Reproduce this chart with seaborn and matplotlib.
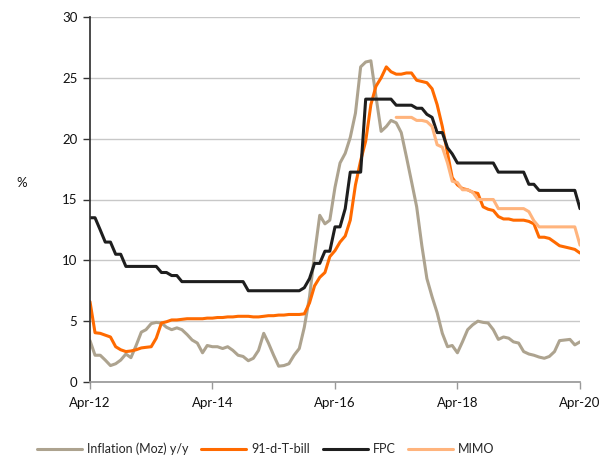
import numpy as np
import pandas as pd
import matplotlib
matplotlib.use("Agg")
import matplotlib.pyplot as plt
import seaborn as sns

dates = pd.date_range("2012-04-01", "2020-04-01", freq="MS")

inflation = [3.4, 2.2, 2.2, 1.8, 1.35, 1.5, 1.8, 2.3, 2.0, 3.0, 4.1, 4.3, 4.8, 4.9, 4.85,
             4.5, 4.3, 4.45, 4.3, 3.9, 3.45, 3.2, 2.4, 3.0, 2.9, 2.9, 2.75, 2.9, 2.6, 2.2,
             2.1, 1.75, 1.95, 2.6, 4.0, 3.2, 2.2, 1.3, 1.35, 1.5, 2.2, 2.75, 4.5, 7.0, 10.5,
             13.7, 13.0, 13.3, 16.0, 18.0, 18.8, 20.1, 22.1, 25.9, 26.3, 26.4, 23.5, 20.6,
             21.0, 21.5, 21.3, 20.5, 18.5, 16.5, 14.4, 11.2, 8.5, 7.0, 5.7, 4.0, 2.9, 3.0,
             2.4, 3.3, 4.3, 4.7, 5.0, 4.9, 4.85, 4.3, 3.5, 3.7, 3.6, 3.3, 3.2, 2.5, 2.3,
             2.2, 2.05, 1.95, 2.1, 2.5, 3.4, 3.45, 3.5, 3.05, 3.3]

tbill = [6.6, 4.05, 4.0, 3.85, 3.7, 2.9, 2.65, 2.5, 2.55, 2.65, 2.8, 2.85, 2.9, 3.6, 4.85,
         4.95, 5.1, 5.1, 5.15, 5.2, 5.2, 5.2, 5.2, 5.25, 5.25, 5.3, 5.3, 5.35, 5.35, 5.4,
         5.4, 5.4, 5.35, 5.35, 5.4, 5.45, 5.45, 5.5, 5.5, 5.55, 5.55, 5.55, 5.6, 6.5, 7.9,
         8.6, 9.0, 10.3, 10.8, 11.5, 12.0, 13.3, 16.2, 18.2, 19.8, 22.8, 24.3, 25.0, 25.9,
         25.5, 25.3, 25.3, 25.4, 25.4, 24.8, 24.7, 24.6, 24.1, 22.8, 21.0, 18.8, 16.8,
         16.2, 15.9, 15.8, 15.6, 15.5, 14.4, 14.2, 14.1, 13.6, 13.4, 13.4, 13.3, 13.3,
         13.3, 13.2, 13.0, 11.9, 11.9, 11.8, 11.5, 11.2, 11.1, 11.0, 10.9, 10.6]

fpc = [13.5, 13.5, 12.5, 11.5, 11.5, 10.5, 10.5, 9.5, 9.5, 9.5, 9.5, 9.5, 9.5, 9.5, 9.0,
       9.0, 8.75, 8.75, 8.25, 8.25, 8.25, 8.25, 8.25, 8.25, 8.25, 8.25, 8.25, 8.25, 8.25,
       8.25, 8.25, 7.5, 7.5, 7.5, 7.5, 7.5, 7.5, 7.5, 7.5, 7.5, 7.5, 7.5, 7.75, 8.5, 9.75,
       9.75, 10.75, 10.75, 12.75, 12.75, 14.25, 17.25, 17.25, 17.25, 23.25, 23.25, 23.25,
       23.25, 23.25, 23.25, 22.75, 22.75, 22.75, 22.75, 22.5, 22.5, 22.0, 21.75, 20.5,
       20.5, 19.25, 18.75, 18.0, 18.0, 18.0, 18.0, 18.0, 18.0, 18.0, 18.0, 17.25, 17.25,
       17.25, 17.25, 17.25, 17.25, 16.25, 16.25, 15.75, 15.75, 15.75, 15.75, 15.75, 15.75,
       15.75, 15.75, 14.25]

mimo = [np.nan] * 60 + [21.75, 21.75, 21.75, 21.75, 21.5, 21.5, 21.4, 21.0, 19.5, 19.3,
                        18.0, 16.5, 16.4, 15.8, 15.8, 15.6, 15.0, 15.0, 15.0, 15.0, 14.25,
                        14.25, 14.25, 14.25, 14.25, 14.25, 14.0, 13.25, 12.75, 12.75, 12.75,
                        12.75, 12.75, 12.75, 12.75, 12.75, 11.25]

series_names = ["Inflation (Moz) y/y", "91-d-T-bill", "FPC", "MIMO"]
colors = ["#ADA38F", "#FF6A00", "#1E1E1E", "#FFB47D"]

df = pd.DataFrame({"date": dates, series_names[0]: inflation, series_names[1]: tbill,
                   series_names[2]: fpc, series_names[3]: mimo})
long = df.melt(id_vars="date", var_name="series", value_name="value")

sns.set_theme(style="white")
plt.rcParams["font.family"] = ["Lato", "DejaVu Sans"]

fig = plt.figure(figsize=(6.1, 4.59), dpi=100)
ax = fig.add_axes([90/610, 1-382/459, 490/610, 365/459])

sns.lineplot(data=long, x="date", y="value", hue="series", hue_order=series_names,
             palette=colors, linewidth=2.2, ax=ax, legend=True)

ax.set_ylim(0, 30)
ax.set_yticks(range(0, 31, 5))
ax.set_xlim(dates[0], dates[-1])
xt = pd.to_datetime(["2012-04-01", "2014-04-01", "2016-04-01", "2018-04-01", "2020-04-01"])
ax.set_xticks(xt)
ax.set_xticklabels(["Apr-12", "Apr-14", "Apr-16", "Apr-18", "Apr-20"])
ax.yaxis.grid(True, color="#C8C8C8", linewidth=1)
ax.set_axisbelow(True)
for s in ["top", "right"]:
    ax.spines[s].set_visible(False)
ax.spines["left"].set_color("#333333")
ax.spines["bottom"].set_color("#999999")
ax.tick_params(axis="y", which="major", left=True, length=5, width=1, color="#333333",
               labelsize=9.5, pad=4, labelcolor="#111111")
ax.tick_params(axis="x", which="major", bottom=True, length=5, width=1, color="#999999",
               labelsize=9.5, pad=6, labelcolor="#111111")
ax.set_xlabel("")
ax.set_ylabel("%", rotation=0, fontsize=9.5, color="#111111")
ax.yaxis.set_label_coords(-0.14, 0.53)

handles, labels = ax.get_legend_handles_labels()
ax.legend(handles, labels, loc="center", bbox_to_anchor=(266/610, 1-449/459),
          bbox_transform=fig.transFigure, ncol=4, frameon=False, fontsize=9,
          handlelength=3.6, columnspacing=1.0, handletextpad=0.4)

fig.savefig("out.png", dpi=100)
